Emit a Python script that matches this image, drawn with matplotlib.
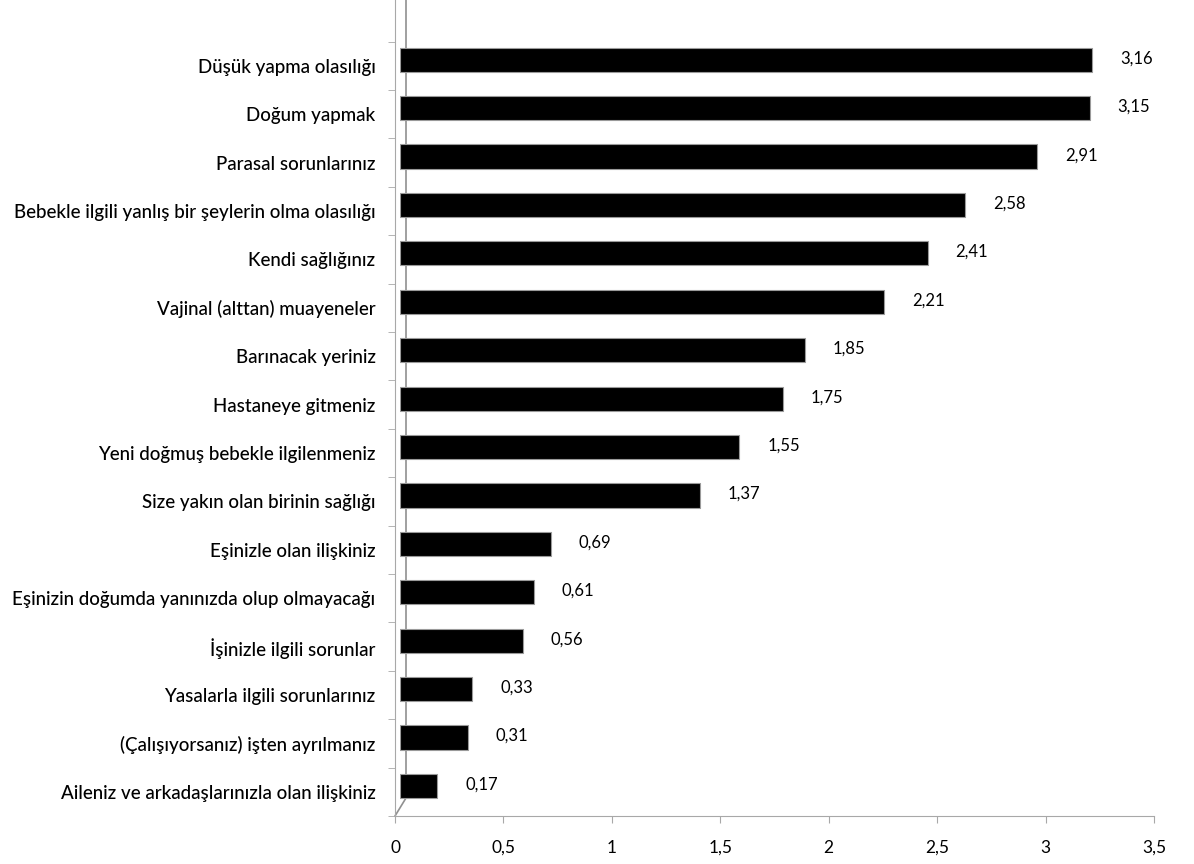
import matplotlib
matplotlib.use("Agg")
import matplotlib.pyplot as plt
from matplotlib.lines import Line2D
import numpy as np

plt.rcParams['font.family'] = ['Liberation Sans Narrow', 'Lato', 'DejaVu Sans']

# categories top to bottom, as in the picture
kategoriler = [
    "Düşük yapma olasılığı",
    "Doğum yapmak",
    "Parasal sorunlarınız",
    "Bebekle ilgili yanlış bir şeylerin olma olasılığı",
    "Kendi sağlığınız",
    "Vajinal (alttan) muayeneler",
    "Barınacak yeriniz",
    "Hastaneye gitmeniz",
    "Yeni doğmuş bebekle ilgilenmeniz",
    "Size yakın olan birinin sağlığı",
    "Eşinizle olan ilişkiniz",
    "Eşinizin doğumda yanınızda olup olmayacağı",
    "İşinizle ilgili sorunlar",
    "Yasalarla ilgili sorunlarınız",
    "(Çalışıyorsanız) işten ayrılmanız",
    "Aileniz ve arkadaşlarınızla olan ilişkiniz",
]
degerler = [3.16, 3.15, 2.91, 2.58, 2.41, 2.21, 1.85, 1.75, 1.55, 1.37,
            0.69, 0.61, 0.56, 0.33, 0.31, 0.17]
x_ticks = [0, 0.5, 1, 1.5, 2, 2.5, 3, 3.5]
x_tick_labels = ["0", "0,5", "1", "1,5", "2", "2,5", "3", "3,5"]

W, H = 1194, 864
fig = plt.figure(figsize=(W / 100, H / 100), dpi=100)

n = len(kategoriler)
ypos = np.arange(n)[::-1]  # top category gets highest index
step = 48.4  # pixels per category
ymin, ymax = -0.5, -0.5 + 816 / step


def px_axes(left, right, top, bottom):
    return fig.add_axes([left / W, 1 - bottom / H, (right - left) / W, (bottom - top) / H])


# front axes: ticks, category labels, x axis
ax = px_axes(395, 1154, 0, 816)
ax.set_xlim(0, 3.5)
ax.set_ylim(ymin, ymax)
for s in ["top", "right"]:
    ax.spines[s].set_visible(False)
ax.spines["left"].set_color("#a8a8a8")
ax.spines["bottom"].set_color("#a8a8a8")
ax.set_xticks(x_ticks)
ax.set_xticklabels(x_tick_labels, fontsize=12.5)
ax.set_yticks(ypos)
ax.set_yticklabels(kategoriler, fontsize=13.5, fontweight="medium")
ax.set_yticks(np.arange(-0.5, n, 1), minor=True)
ax.tick_params(axis="y", which="major", length=0, pad=14)
ax.tick_params(axis="y", which="minor", length=5, color="#a8a8a8")
ax.tick_params(axis="x", length=5, color="#a8a8a8", pad=12)
ax.patch.set_alpha(0)

# back wall line and floor edge (behind the bars)
fig.add_artist(Line2D([406 / W, 406 / W, 395 / W], [1, 1 - 798 / H, 1 - 816 / H],
                      transform=fig.transFigure, color="#909090", lw=1.2, zorder=-1))

# back plane: bars sit slightly to the right and up (3D depth)
axb = px_axes(400, 400 + 3.5 * 219, -6, 816 - 6)
axb.set_xlim(0, 3.5)
axb.set_ylim(ymin, ymax)
axb.axis("off")
axb.barh(ypos, degerler, height=0.5, color="black", edgecolor="#9a9a9a", linewidth=0.8)
for y, v in zip(ypos, degerler):
    axb.annotate(f"{v:.2f}".replace(".", ","), (v, y), xytext=(20, 1),
                 textcoords="offset points", va="center", ha="left", fontsize=12)

fig.savefig("out.png", dpi=100)
